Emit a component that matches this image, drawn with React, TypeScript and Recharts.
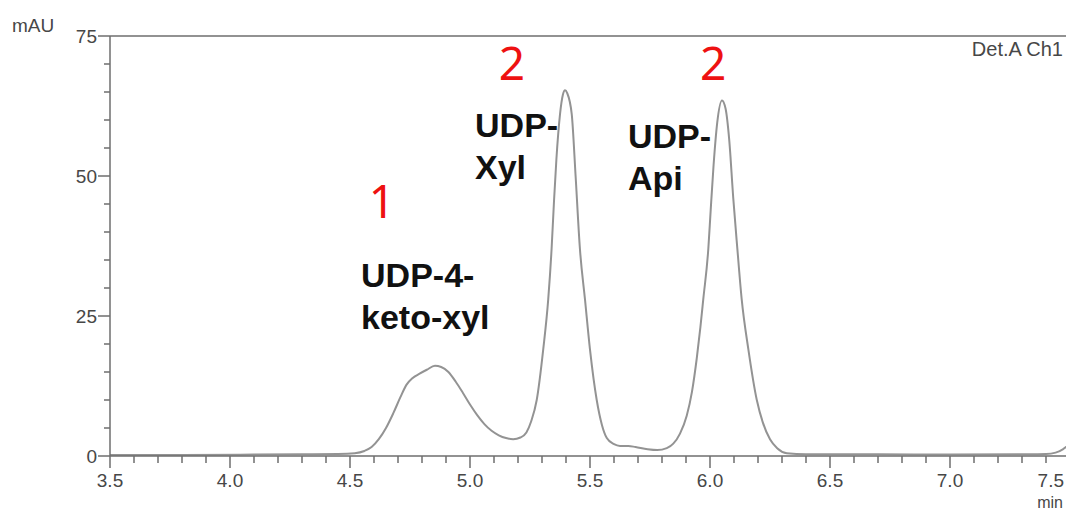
import React from 'react';
import { LineChart, Line, XAxis, YAxis, ReferenceLine, ReferenceDot } from 'recharts';

// Retention time (min)
const times = [
  3.5, 3.8, 4.1, 4.3, 4.45, 4.52, 4.56, 4.59, 4.62, 4.65, 4.68, 4.71, 4.735, 4.76, 4.79, 4.82, 4.854,
  4.88, 4.91, 4.94, 4.97, 5.0, 5.03, 5.06, 5.09, 5.12, 5.15, 5.18, 5.21, 5.235, 5.255, 5.278, 5.305,
  5.326, 5.34, 5.35, 5.36, 5.375, 5.387, 5.396, 5.405, 5.424, 5.44, 5.458, 5.479, 5.5, 5.528, 5.55,
  5.57, 5.6, 5.625, 5.66, 5.69, 5.74, 5.78, 5.82, 5.847, 5.875, 5.903, 5.925, 5.945, 5.96, 5.972,
  5.993, 6.003, 6.015, 6.03, 6.05, 6.065, 6.08, 6.097, 6.114, 6.132, 6.16, 6.195, 6.22, 6.25, 6.28,
  6.32, 6.4, 6.7, 7.0, 7.3, 7.4, 7.44, 7.47, 7.5,
];
// Absorbance (mAU)
const absorbance = [
  0.2, 0.2, 0.25, 0.3, 0.35, 0.5, 0.9, 1.6, 3.0, 5.0, 7.6, 10.5, 12.7, 13.9, 14.7, 15.4, 16.1,
  15.9, 15.0, 13.3, 11.3, 9.2, 7.3, 5.7, 4.5, 3.7, 3.2, 3.0, 3.3, 4.2, 6.2, 10.0, 19.0,
  28.0, 37.0, 45.5, 53.0, 61.0, 64.5, 65.3, 64.8, 61.0, 50.0, 37.0, 28.0, 19.0, 10.0, 5.5,
  3.2, 2.1, 1.8, 1.8, 1.6, 1.2, 1.05, 1.4, 2.2, 4.0, 7.2, 11.5, 17.5, 23.0, 28.0,
  37.0, 44.0, 52.0, 59.5, 63.5, 62.0, 56.5, 46.0, 37.0, 28.0, 19.0, 10.0, 6.0, 3.0, 1.4,
  0.5, 0.3, 0.3, 0.25, 0.3, 0.35, 0.6, 1.2, 2.2,
];

const xMajorTicks = [3.5, 4.0, 4.5, 5.0, 5.5, 6.0, 6.5, 7.0, 7.5];
const xTicks = [
  3.5, 3.6, 3.7, 3.8, 3.9, 4.0, 4.1, 4.2, 4.3, 4.4, 4.5, 4.6, 4.7, 4.8, 4.9, 5.0, 5.1, 5.2, 5.3, 5.4,
  5.5, 5.6, 5.7, 5.8, 5.9, 6.0, 6.1, 6.2, 6.3, 6.4, 6.5, 6.6, 6.7, 6.8, 6.9, 7.0, 7.1, 7.2, 7.3, 7.4, 7.5,
];
const yMajorTicks = [0, 25, 50, 75];
const yTicks = [0, 5, 10, 15, 20, 25, 30, 35, 40, 45, 50, 55, 60, 65, 70, 75];

// Peak annotations: anchor in data units
const peakNumbers = [
  { label: '1', x: 4.633, y: 42.5 },
  { label: '2', x: 5.175, y: 67.1 },
  { label: '2', x: 6.013, y: 67.1 },
];
const peakNames = [
  { lines: ['UDP-4-', 'keto-xyl'], x: 4.546, y: 30.2 },
  { lines: ['UDP-', 'Xyl'], x: 5.021, y: 57.0 },
  { lines: ['UDP-', 'Api'], x: 5.658, y: 55.0 },
];

const data = times.map((t, i) => ({ t, v: absorbance[i] }));

const AXIS_COLOR = '#6e6e6e';
const TEXT_COLOR = '#474747';
const FONT = '"Liberation Sans", Arial, sans-serif';
const VIEW_W = 1066;

const isMajor = (list: number[], v: number) => list.some((m) => Math.abs(m - v) < 1e-6);

const XTick = (props: any) => {
  const { x, y, payload } = props;
  const v = payload.value as number;
  const major = isMajor(xMajorTicks, v);
  // keep the last label inside the visible frame, as the reference does
  const overflow = x + 13 > VIEW_W - 1;
  return (
    <g>
      <line x1={x} x2={x} y1={y} y2={y + (major ? 12 : 7)} stroke={AXIS_COLOR} strokeWidth={1.5} />
      {major && (
        <text
          x={overflow ? VIEW_W - 2 : x}
          y={y + 31}
          textAnchor={overflow ? 'end' : 'middle'}
          fontSize={19}
          fontFamily={FONT}
          fill={TEXT_COLOR}
        >
          {v.toFixed(1)}
        </text>
      )}
    </g>
  );
};

const YTick = (props: any) => {
  const { x, y, payload } = props;
  const v = payload.value as number;
  const major = isMajor(yMajorTicks, v);
  return (
    <g>
      <line x1={x - (major ? 12 : 6)} x2={x} y1={y} y2={y} stroke={AXIS_COLOR} strokeWidth={1.5} />
      {major && (
        <text x={x - 13} y={y + 7} textAnchor="end" fontSize={19} fontFamily={FONT} fill={TEXT_COLOR}>
          {v}
        </text>
      )}
    </g>
  );
};

const numberLabel = (text: string) => (p: any) => {
  const vb = p.viewBox || {};
  return (
    <text x={vb.x} y={vb.y} textAnchor="middle" fontSize={46} fontFamily='"Noto Sans", sans-serif' fill="#ee1111">
      {text}
    </text>
  );
};

const nameLabel = (lines: string[]) => (p: any) => {
  const vb = p.viewBox || {};
  return (
    <text x={vb.x} y={vb.y} textAnchor="start" fontSize={34} fontWeight="bold" fontFamily={FONT} fill="#111">
      {lines.map((l, i) => (
        <tspan key={i} x={vb.x} dy={i === 0 ? 0 : 42}>
          {l}
        </tspan>
      ))}
    </text>
  );
};

export default function App() {
  return (
    <div
      style={{
        position: 'absolute',
        left: 0,
        top: 0,
        width: VIEW_W,
        height: 511,
        overflow: 'hidden',
        background: '#fff',
      }}
    >
      <LineChart
        width={1080}
        height={511}
        data={data}
        margin={{ top: 36, right: 10, bottom: 24, left: 50 }}
      >
        <XAxis
          type="number"
          dataKey="t"
          domain={[3.5, 7.5]}
          ticks={xTicks}
          interval={0}
          tickSize={0}
          tickMargin={0}
          tickLine={false}
          tick={<XTick />}
          axisLine={{ stroke: AXIS_COLOR, strokeWidth: 1.5 }}
          height={31}
          allowDataOverflow
        />
        <YAxis
          type="number"
          domain={[0, 75]}
          ticks={yTicks}
          interval={0}
          tickSize={0}
          tickMargin={0}
          tickLine={false}
          tick={<YTick />}
          axisLine={{ stroke: AXIS_COLOR, strokeWidth: 1.5 }}
          width={60}
          allowDataOverflow
        />
        <ReferenceLine y={75} stroke={AXIS_COLOR} strokeWidth={1.5} />
        <Line
          type="monotone"
          dataKey="v"
          stroke="#939393"
          strokeWidth={2}
          dot={false}
          isAnimationActive={false}
        />
        {peakNumbers.map((p, i) => (
          <ReferenceDot key={'n' + i} x={p.x} y={p.y} r={0} fill="none" stroke="none" label={numberLabel(p.label)} />
        ))}
        {peakNames.map((p, i) => (
          <ReferenceDot key={'l' + i} x={p.x} y={p.y} r={0} fill="none" stroke="none" label={nameLabel(p.lines)} />
        ))}
      </LineChart>
      <svg
        width={VIEW_W}
        height={511}
        style={{ position: 'absolute', left: 0, top: 0, pointerEvents: 'none' }}
      >
        <text x={12} y={32} fontSize={19} fontFamily={FONT} fill={TEXT_COLOR}>
          mAU
        </text>
        <text x={1063} y={56} textAnchor="end" fontSize={20} fontFamily={FONT} fill={TEXT_COLOR}>
          Det.A Ch1
        </text>
        <text x={1063} y={508} textAnchor="end" fontSize={16} fontFamily={FONT} fill={TEXT_COLOR}>
          min
        </text>
      </svg>
    </div>
  );
}
